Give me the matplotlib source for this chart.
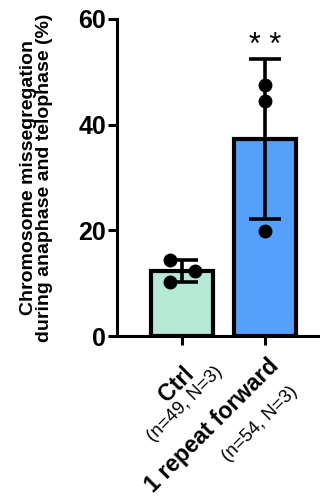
import numpy as np
import matplotlib
matplotlib.use("Agg")
import matplotlib.pyplot as plt
from matplotlib.transforms import offset_copy

plt.rcParams['font.family'] = ['Liberation Sans', 'DejaVu Sans']

# data
groups = ["Ctrl", "1 repeat forward"]
group_n = ["(n=49, N=3)", "(n=54, N=3)"]
points = [[14.4, 12.3, 10.2], [47.5, 44.5, 19.9]]
point_jitter = [[-0.15, 0.16, -0.15], [0.0, 0.0, 0.0]]
bar_colors = ["#b5e8d5", "#55a0fb"]
signif = ["", "* *"]

means = [np.mean(p) for p in points]
sds = [np.std(p, ddof=1) for p in points]
x = np.arange(len(groups))

fig = plt.figure(figsize=(3.2, 4.96), dpi=100)
ax = fig.add_axes([117 / 320, 1 - 336 / 496, (320 - 117) / 320, (336 - 19) / 496])

ax.bar(x, means, width=0.75, color=bar_colors, edgecolor="black", linewidth=3, zorder=2)
ax.errorbar(x, means, yerr=sds, fmt="none", ecolor="black", elinewidth=2.6,
            capsize=11.5, capthick=2.6, zorder=3)
for i, p in enumerate(points):
    ax.plot(x[i] + np.array(point_jitter[i]), p, "o", color="black", ms=9, zorder=4)

for i, s in enumerate(signif):
    if s:
        ax.text(x[i], 54.8, s, ha="center", va="center", fontsize=22)

ax.set_xlim(-0.783, 1.663)
ax.set_ylim(0, 60)
ax.set_yticks([0, 20, 40, 60])
ax.tick_params(axis="y", labelsize=18, width=2.2, length=6.5, pad=1.5)
ax.tick_params(axis="x", width=2.2, length=6.5, labelbottom=False)
ax.set_xticks(x)
for lab in ax.get_yticklabels():
    lab.set_fontweight("bold")
for side in ["top", "right"]:
    ax.spines[side].set_visible(False)
for side in ["left", "bottom"]:
    ax.spines[side].set_linewidth(2.2)

ax.set_ylabel("Chromosome missegregation\nduring anaphase and telophase (%)",
              fontsize=14, fontweight="bold", labelpad=18, linespacing=0.95)

# rotated two-line category labels
line1_off = [(0, -26), (2, -18)]
line2_off = [(32, -27), (24, -47)]
base = ax.get_xaxis_transform()
for i in range(len(groups)):
    t1 = offset_copy(base, fig, x=line1_off[i][0], y=line1_off[i][1], units="dots")
    ax.text(x[i], 0, groups[i], transform=t1, rotation=45, rotation_mode="anchor",
            ha="right", va="top", fontsize=16.6, fontweight="bold")
    t2 = offset_copy(base, fig, x=line2_off[i][0], y=line2_off[i][1], units="dots")
    ax.text(x[i], 0, group_n[i], transform=t2, rotation=45, rotation_mode="anchor",
            ha="right", va="top", fontsize=13.4)

fig.savefig("out.png", dpi=100)
